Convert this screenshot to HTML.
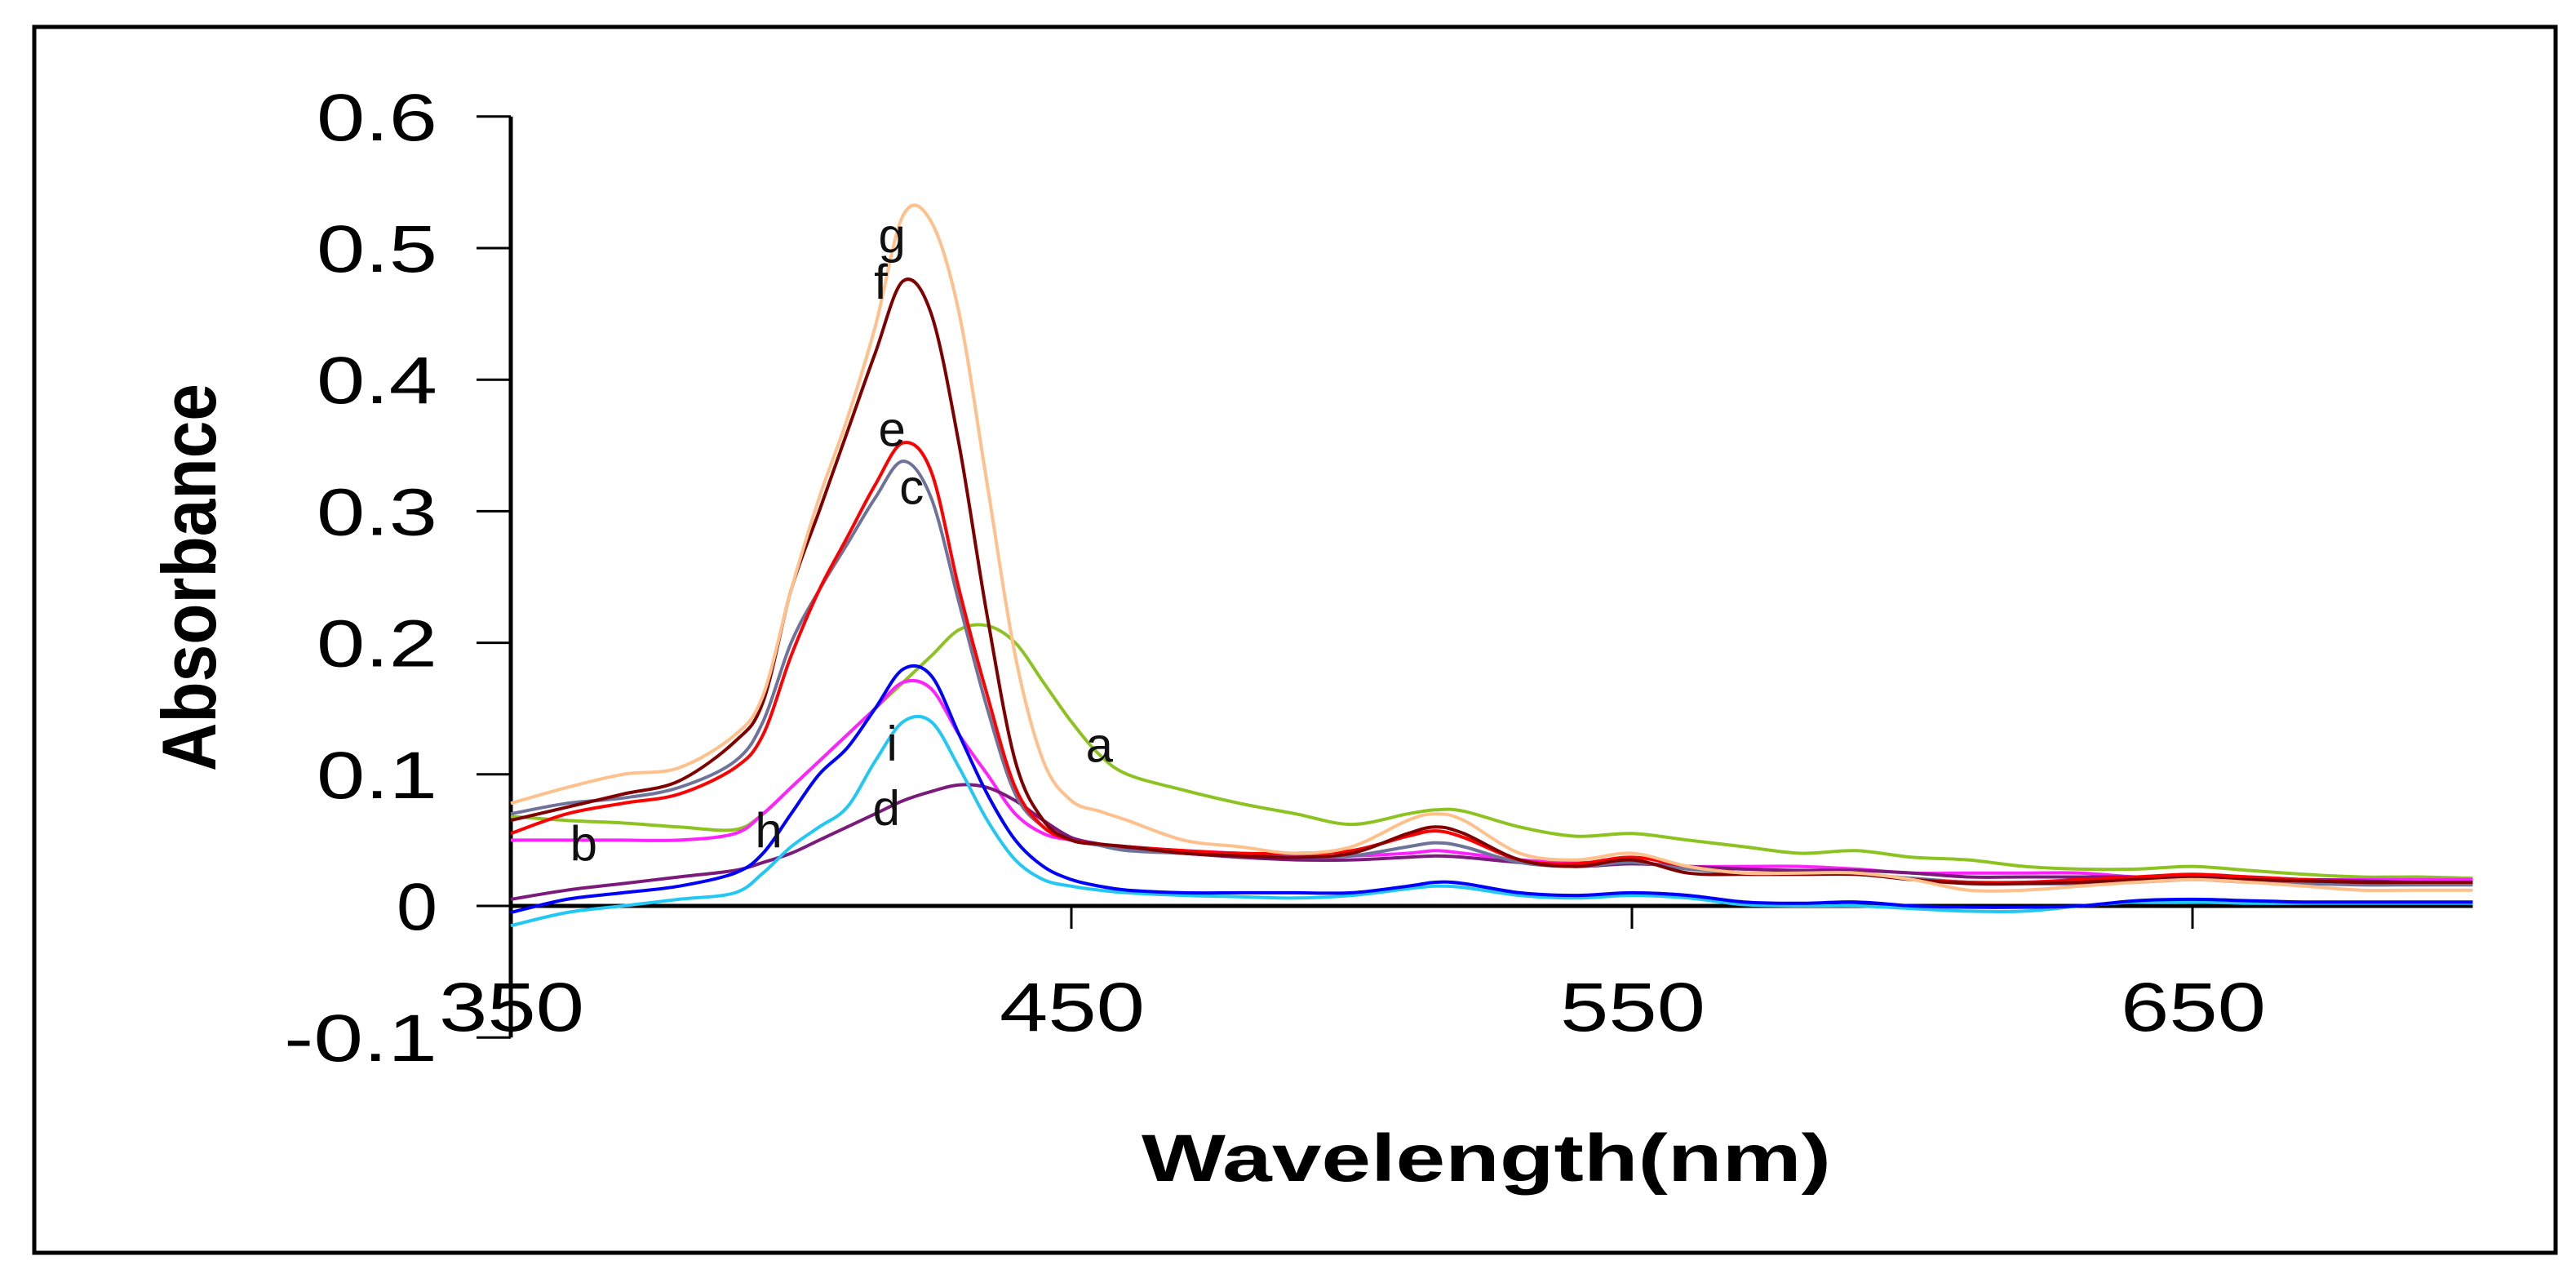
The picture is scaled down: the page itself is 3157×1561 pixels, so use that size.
<!DOCTYPE html>
<html><head><meta charset="utf-8"><style>
html,body{margin:0;padding:0;background:#fff;}
svg{display:block;font-family:"Liberation Sans",sans-serif;}
</style></head><body>
<svg id="chart" width="3157" height="1561" viewBox="0 0 3157 1561">
<rect x="42" y="33" width="3090" height="1502" fill="#fff" stroke="#000" stroke-width="5"/>
<g id="axes"></g>
<g id="series"></g>
<g id="labels"></g>
<text x="1399" y="1447" font-size="82" font-weight="bold" textLength="845" lengthAdjust="spacingAndGlyphs">Wavelength(nm)</text>
<text transform="translate(264,945) rotate(-90)" font-size="94" font-weight="bold" textLength="475" lengthAdjust="spacingAndGlyphs">Absorbance</text>
</svg>
<script>
const wavelengths=[350,360,370,380,390,395,400,405,410,415,420,425,430,435,440,445,450,455,460,470,480,490,500,510,515,520,530,540,550,560,570,580,590,600,610,620,630,640,650,660,670,680,690,700];
const seriesA=[0.068,0.065,0.063,0.060,0.058,0.070,0.090,0.110,0.130,0.150,0.170,0.190,0.210,0.213,0.200,0.170,0.140,0.115,0.100,0.088,0.078,0.070,0.062,0.070,0.073,0.072,0.060,0.053,0.055,0.050,0.045,0.040,0.042,0.037,0.035,0.030,0.028,0.028,0.030,0.027,0.024,0.022,0.022,0.021];
const seriesB=[0.050,0.050,0.050,0.050,0.055,0.070,0.090,0.110,0.130,0.150,0.170,0.165,0.130,0.100,0.070,0.055,0.050,0.047,0.045,0.042,0.040,0.038,0.038,0.040,0.042,0.040,0.035,0.033,0.033,0.030,0.030,0.030,0.028,0.025,0.025,0.025,0.025,0.022,0.022,0.022,0.020,0.020,0.020,0.020];
const seriesC=[0.070,0.078,0.082,0.090,0.110,0.140,0.200,0.240,0.275,0.310,0.338,0.310,0.230,0.150,0.085,0.060,0.050,0.046,0.042,0.040,0.038,0.037,0.038,0.045,0.048,0.045,0.033,0.030,0.033,0.028,0.025,0.024,0.024,0.021,0.018,0.017,0.017,0.018,0.020,0.018,0.017,0.016,0.016,0.016];
const seriesD=[0.005,0.012,0.017,0.022,0.027,0.033,0.040,0.050,0.060,0.070,0.080,0.087,0.092,0.090,0.080,0.065,0.052,0.047,0.043,0.040,0.037,0.035,0.035,0.037,0.038,0.037,0.033,0.030,0.032,0.030,0.028,0.027,0.027,0.025,0.022,0.022,0.022,0.022,0.022,0.020,0.020,0.019,0.018,0.018];
const seriesE=[0.055,0.070,0.078,0.085,0.105,0.130,0.190,0.240,0.280,0.320,0.352,0.330,0.240,0.160,0.090,0.060,0.050,0.047,0.045,0.042,0.040,0.040,0.042,0.053,0.057,0.052,0.035,0.032,0.037,0.030,0.025,0.025,0.025,0.020,0.018,0.018,0.020,0.022,0.024,0.022,0.020,0.018,0.018,0.018];
const seriesF=[0.065,0.075,0.085,0.095,0.125,0.155,0.240,0.300,0.360,0.420,0.475,0.450,0.350,0.220,0.110,0.065,0.050,0.047,0.045,0.040,0.038,0.037,0.040,0.055,0.060,0.055,0.035,0.030,0.035,0.025,0.024,0.024,0.024,0.020,0.017,0.017,0.018,0.020,0.021,0.020,0.019,0.018,0.018,0.018];
const seriesG=[0.078,0.090,0.100,0.105,0.130,0.160,0.240,0.310,0.370,0.440,0.525,0.520,0.450,0.320,0.190,0.110,0.080,0.072,0.065,0.050,0.045,0.040,0.045,0.065,0.070,0.065,0.040,0.035,0.040,0.030,0.025,0.025,0.025,0.020,0.012,0.012,0.015,0.018,0.020,0.018,0.015,0.012,0.012,0.012];
const seriesH=[-0.005,0.005,0.010,0.015,0.025,0.040,0.070,0.100,0.120,0.150,0.180,0.175,0.130,0.085,0.050,0.030,0.020,0.015,0.012,0.010,0.010,0.010,0.010,0.015,0.018,0.017,0.010,0.008,0.010,0.008,0.003,0.002,0.003,0.000,-0.001,-0.001,0.000,0.004,0.005,0.004,0.003,0.003,0.003,0.003];
const seriesI=[-0.015,-0.005,0.000,0.005,0.010,0.025,0.045,0.060,0.075,0.110,0.140,0.140,0.105,0.065,0.035,0.020,0.015,0.012,0.010,0.008,0.007,0.006,0.008,0.013,0.015,0.014,0.008,0.006,0.008,0.006,0.001,0.000,0.000,-0.002,-0.004,-0.004,0.000,0.003,0.003,0.002,0.002,0.002,0.002,0.002];
const seriesNames=["a","b","c","d","e","f","g","h","i"];
const seriesColors=["#8cc320","#ff22ff","#6e7399","#7a1a7a","#ff0000","#800000","#ffc08c","#0000ff","#22c8f5"];
const yTicks=[0.6,0.5,0.4,0.3,0.2,0.1,0,-0.1];
const yTickLabels=["0.6","0.5","0.4","0.3","0.2","0.1","0","-0.1"];
const xTicks=[350,450,550,650];
const xTickLabels=["350","450","550","650"];
const labelPos=[[455,0.122],[363,0.047],[421.5,0.318],[417,0.074],[418,0.362],[416,0.474],[418,0.509],[396,0.057],[418,0.123]];

const NS="http://www.w3.org/2000/svg";
function X(w){return 626+(w-350)*6.87;}
function Y(v){return 1110-v*1612;}
function mk(tag,attrs,parent){const e=document.createElementNS(NS,tag);for(const k in attrs)e.setAttribute(k,attrs[k]);parent.appendChild(e);return e;}
function smoothPath(pts){
  let d='M'+pts[0][0].toFixed(1)+','+pts[0][1].toFixed(1);
  for(let i=0;i<pts.length-1;i++){
    const p0=pts[Math.max(0,i-1)],p1=pts[i],p2=pts[i+1],p3=pts[Math.min(pts.length-1,i+2)];
    const c1x=p1[0]+(p2[0]-p0[0])/6,c1y=p1[1]+(p2[1]-p0[1])/6;
    const c2x=p2[0]-(p3[0]-p1[0])/6,c2y=p2[1]-(p3[1]-p1[1])/6;
    d+=' C'+c1x.toFixed(1)+','+c1y.toFixed(1)+' '+c2x.toFixed(1)+','+c2y.toFixed(1)+' '+p2[0].toFixed(1)+','+p2[1].toFixed(1);
  }
  return d;
}
const axes=document.getElementById('axes');
let e;
e=mk('line',{x1:X(350),y1:Y(0.6),x2:X(350),y2:Y(-0.1),stroke:'#000','stroke-width':5},axes);


e=mk('line',{x1:X(350),y1:Y(0),x2:X(700),y2:Y(0),stroke:'#000','stroke-width':5},axes);


yTicks.forEach((t,i)=>{
  const l=mk('line',{x1:584,y1:Y(t),x2:X(350),y2:Y(t),stroke:'#000','stroke-width':3},axes);
  
  
  const lab=yTickLabels[i];
  const w=lab.length===1?50:(lab.length===3?148:188);
  const tx=mk('text',{x:536,y:Y(t)+29,'font-size':82,'text-anchor':'end',textLength:w,lengthAdjust:'spacingAndGlyphs'},axes);
  tx.textContent=lab;
  
  
});
xTicks.forEach((t,i)=>{
  const l=mk('line',{x1:X(t),y1:Y(0),x2:X(t),y2:Y(0)+28,stroke:'#000','stroke-width':3},axes);
  
  
  const tx=mk('text',{x:X(t)-88,y:1263,'font-size':84,textLength:178,lengthAdjust:'spacingAndGlyphs'},axes);
  tx.textContent=xTickLabels[i];
  
  
});
const allSeries=[seriesA,seriesB,seriesC,seriesD,seriesE,seriesF,seriesG,seriesH,seriesI];
const sg=document.getElementById('series');
const order=[0,1,3,8,7,2,4,5,6];
order.forEach(si=>{
  const vals=allSeries[si];
  const pts=vals.map((v,j)=>[X(wavelengths[j]),Y(v)]);
  const p=mk('path',{d:smoothPath(pts),fill:'none',stroke:seriesColors[si],'stroke-width':4,'stroke-linejoin':'round'},sg);
  
  
});
const lg=document.getElementById('labels');
labelPos.forEach((p,i)=>{
  const t=mk('text',{x:X(p[0]),y:Y(p[1])+20,'font-size':60,'text-anchor':'middle',fill:'#111'},lg);
  t.textContent=seriesNames[i];
  
  
});
</script>
</body></html>
